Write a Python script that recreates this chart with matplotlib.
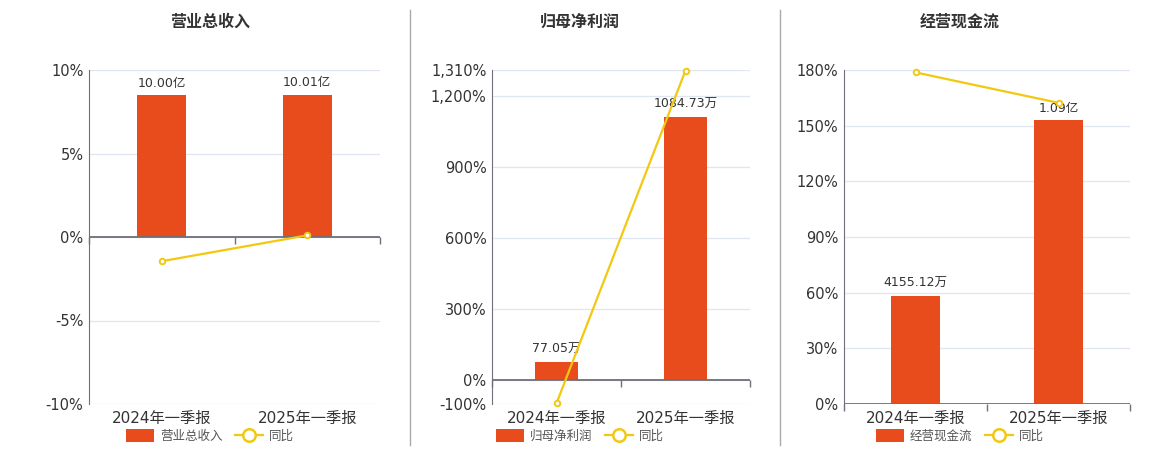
import numpy as np
import matplotlib
matplotlib.use("Agg")
import matplotlib.pyplot as plt
import matplotlib.ticker as mticker
from matplotlib.patches import Patch
from matplotlib.lines import Line2D

plt.rcParams["font.family"] = ["DejaVu Sans", "Noto Sans CJK SC"]

# data
categories = ["2024年一季报", "2025年一季报"]
titles = ["营业总收入", "归母净利润", "经营现金流"]
bar_values = [[10.00e8, 10.01e8], [77.05e4, 1084.73e4], [4155.12e4, 1.09e8]]
bar_labels = [["10.00亿", "10.01亿"], ["77.05万", "1084.73万"], ["4155.12万", "1.09亿"]]
yoy_values = [[-1.45, 0.1], [-97.0, 1307.8], [178.7, 162.3]]
pct_ticks = [[-10, -5, 0, 5, 10], [-100, 0, 300, 600, 900, 1200, 1310], [0, 30, 60, 90, 120, 150, 180]]

BAR_COLOR = "#E84C1D"
LINE_COLOR = "#F2C811"
TEXT = "#333333"
AXIS = "#6E7079"
GRID = "#E0E6F1"

fig = plt.figure(figsize=(11.6, 4.5), dpi=100)

# [left, right] in px and title/legend center
panels = [(89, 380, 210), (492, 750, 580), (844, 1130, 960)]
W, H = 1160, 450
top_px, bot_px = 70, 404

for i in range(3):
    l, r, cx = panels[i]
    ax = fig.add_axes([l / W, (H - bot_px) / H, (r - l) / W, (bot_px - top_px) / H])
    ticks = pct_ticks[i]
    lo, hi = ticks[0], ticks[-1]
    x = np.arange(len(categories))

    # percent axis (grid + ticks)
    ax.set_ylim(lo, hi)
    ax.set_xlim(-0.5, len(categories) - 0.5)
    ax.set_yticks(ticks)
    ax.yaxis.set_major_formatter(mticker.FuncFormatter(lambda v, p: "{:,.0f}%".format(v)))
    ax.grid(axis="y", color=GRID, lw=0.9)
    ax.set_axisbelow(True)
    for s in ["top", "right", "bottom"]:
        ax.spines[s].set_visible(False)
    ax.spines["left"].set_color(AXIS)
    ax.tick_params(axis="y", length=0, labelsize=10.5, colors=TEXT, pad=4)
    ax.set_xticks(x)
    ax.set_xticklabels(categories)
    ax.tick_params(axis="x", length=0, labelsize=11, colors=TEXT, pad=5)

    # bars on their own scale, zero aligned with 0%
    bx = ax.twinx()
    vmax = max(bar_values[i])
    btop = vmax / 0.85
    bx.set_ylim(btop * lo / hi, btop)
    bx.bar(x, bar_values[i], width=0.34, color=BAR_COLOR, zorder=2)
    for xi, v, lab in zip(x, bar_values[i], bar_labels[i]):
        bx.annotate(lab, (xi, v), xytext=(0, 4), textcoords="offset points",
                    ha="center", va="bottom", fontsize=9, color=TEXT)
    bx.axis("off")

    # yoy line on top
    lx = ax.twinx()
    lx.set_ylim(lo, hi)
    lx.axhline(0, color=AXIS, lw=1.3)
    for b in [-0.5, 0.5, 1.5]:
        lx.plot([b], [0], marker=3, markersize=5, color=AXIS, markeredgewidth=1,
                clip_on=False)
    lx.plot(x, yoy_values[i], color=LINE_COLOR, lw=1.6, marker="o", markersize=4,
            markerfacecolor="white", markeredgecolor=LINE_COLOR, markeredgewidth=1.4,
            clip_on=False, zorder=5)
    lx.axis("off")

    fig.text(cx / W, 1 - 22 / H, titles[i], ha="center", va="center",
             fontsize=11.5, fontweight="bold", color=TEXT)

    handles = [Patch(facecolor=BAR_COLOR, edgecolor="none"),
               Line2D([], [], color=LINE_COLOR, lw=1.6, marker="o", markersize=9,
                      markerfacecolor="white", markeredgewidth=1.8)]
    fig.legend(handles, [titles[i], "同比"], loc="center", bbox_to_anchor=(cx / W, 14 / H),
               ncol=2, frameon=False, fontsize=9, labelcolor="#555555",
               handlelength=2.2, handleheight=1.2, columnspacing=1.0, handletextpad=0.5)

for sx in [410, 780]:
    fig.add_artist(Line2D([sx / W, sx / W], [5 / H, 440 / H], transform=fig.transFigure,
                          color="#AAAAAA", lw=1))

fig.savefig("out.png", dpi=100)
